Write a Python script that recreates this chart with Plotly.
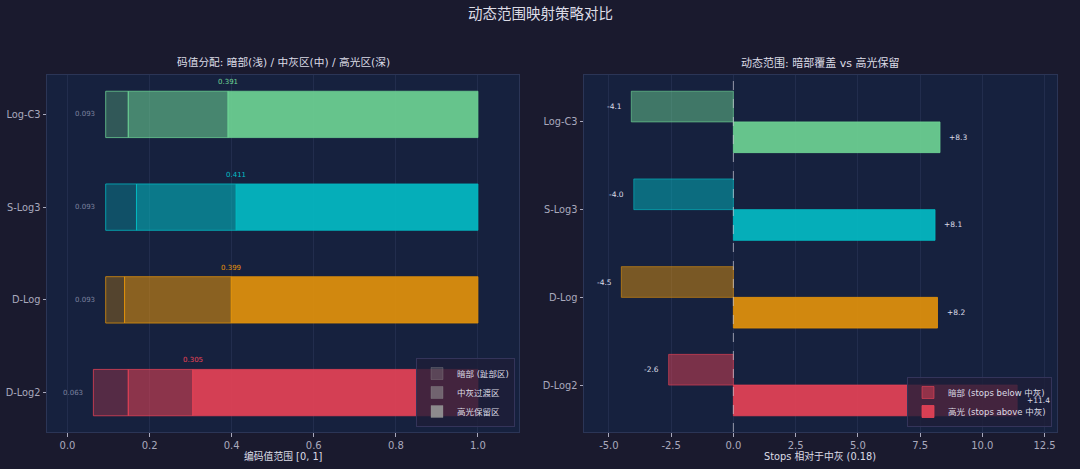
import plotly.graph_objects as go

# ---------------- data ----------------
curves = ["Log-C3", "S-Log3", "D-Log", "D-Log2"]
black_cv = [0.093, 0.093, 0.093, 0.063]
toe_end_cv = [0.148, 0.168, 0.139, 0.148]
mid_grey_cv = [0.391, 0.411, 0.399, 0.305]
white_cv = [1.0, 1.0, 1.0, 1.0]
stops_below = [-4.1, -4.0, -4.5, -2.6]
stops_above = [8.3, 8.1, 8.2, 11.4]
x1_ticks = [0.0, 0.2, 0.4, 0.6, 0.8, 1.0]
x2_ticks = [-5.0, -2.5, 0.0, 2.5, 5.0, 7.5, 10.0, 12.5]
seg_names = ["暗部 (趾部区)", "中灰过渡区", "高光保留区"]
dr_names = ["暗部 (stops below 中灰)", "高光 (stops above 中灰)"]

# ---------------- style ----------------
base_rgb = [(111, 214, 149), (3, 190, 198), (230, 148, 10), (233, 67, 86)]
FIG_BG = "#1a1a2e"
AX_BG = "#16213e"
FONT = "DejaVu Sans, Noto Sans CJK SC, sans-serif"
TICK_C = "#a9a9bd"
TXT_C = "#dcdce6"
GRID_C = "rgba(48,60,95,0.45)"
SPINE_C = "#2b3556"

def rgba(c, a):
    return f"rgba({c[0]},{c[1]},{c[2]},{a})"

n = len(curves)
ypos = [n - 1 - i for i in range(n)]  # Log-C3 on top

fig = go.Figure()

# ---- left: code value segments ----
alphas = [0.30, 0.56, 0.90]
starts = [black_cv, toe_end_cv, mid_grey_cv]
ends = [toe_end_cv, mid_grey_cv, white_cv]
for k in range(3):
    fig.add_trace(go.Bar(
        orientation="h",
        y=ypos,
        x=[ends[k][i] - starts[k][i] for i in range(n)],
        base=starts[k],
        width=0.5,
        marker=dict(color=[rgba(c, alphas[k]) for c in base_rgb],
                    line=dict(color=[rgba(c, 0.75) for c in base_rgb], width=1)),
        showlegend=False, hoverinfo="skip",
        xaxis="x", yaxis="y",
    ))
for k in range(3):
    fig.add_trace(go.Bar(
        orientation="h", y=[None], x=[None],
        name=seg_names[k],
        marker=dict(color=rgba((150, 150, 150), alphas[k]),
                    line=dict(color=rgba((150, 150, 150), 0.3), width=1)),
        showlegend=True, legend="legend",
        xaxis="x", yaxis="y",
    ))

# ---- right: stops ----
fig.add_trace(go.Bar(
    orientation="h",
    y=[p + 0.175 for p in ypos], x=stops_below, width=0.35,
    marker=dict(color=[rgba(c, 0.48) for c in base_rgb],
                line=dict(color=[rgba(c, 0.6) for c in base_rgb], width=1)),
    showlegend=False, hoverinfo="skip", xaxis="x2", yaxis="y2",
))
fig.add_trace(go.Bar(
    orientation="h",
    y=[p - 0.175 for p in ypos], x=stops_above, width=0.35,
    marker=dict(color=[rgba(c, 0.90) for c in base_rgb],
                line=dict(color=[rgba(c, 0.8) for c in base_rgb], width=1)),
    showlegend=False, hoverinfo="skip", xaxis="x2", yaxis="y2",
))
fig.add_trace(go.Bar(
    orientation="h", y=[None], x=[None], name=dr_names[0],
    marker=dict(color=rgba(base_rgb[3], 0.48), line=dict(color=rgba(base_rgb[3], 0.6), width=1)),
    legend="legend2", xaxis="x2", yaxis="y2",
))
fig.add_trace(go.Bar(
    orientation="h", y=[None], x=[None], name=dr_names[1],
    marker=dict(color=rgba(base_rgb[3], 0.9), line=dict(color=rgba(base_rgb[3], 0.8), width=1)),
    legend="legend2", xaxis="x2", yaxis="y2",
))

ann = []
for i in range(n):
    c = base_rgb[i]
    ann.append(dict(xref="x", yref="y", x=black_cv[i] - 0.02, y=ypos[i],
                    text=f"{black_cv[i]:.3f}", showarrow=False, xanchor="right",
                    yanchor="middle", font=dict(size=7, color="#7c819e", family=FONT)))
    ann.append(dict(xref="x", yref="y", x=mid_grey_cv[i], y=ypos[i] + 0.25,
                    text=f"{mid_grey_cv[i]:.3f}", showarrow=False, xanchor="center",
                    yanchor="bottom", yshift=3, font=dict(size=7, color=rgba(c, 1), family=FONT)))
    ann.append(dict(xref="x2", yref="y2", x=stops_below[i] - 0.3, y=ypos[i] + 0.175,
                    text=f"{stops_below[i]:.1f}", showarrow=False, xanchor="right",
                    yanchor="middle", font=dict(size=7.5, color=TXT_C, family=FONT)))
    ann.append(dict(xref="x2", yref="y2", x=stops_above[i] + 0.3, y=ypos[i] - 0.175,
                    text=f"{stops_above[i]:+.1f}", showarrow=False, xanchor="left",
                    yanchor="middle", font=dict(size=7.5, color=TXT_C, family=FONT)))

# titles
ann.append(dict(xref="paper", yref="paper", x=0.5, y=1 - 14 / 469, text="动态范围映射策略对比",
                showarrow=False, xanchor="center", yanchor="middle",
                font=dict(size=14.5, color=TXT_C, family=FONT)))
ann.append(dict(xref="paper", yref="paper", x=283 / 1080, y=1 - 63 / 469,
                text="码值分配: 暗部(浅) / 中灰区(中) / 高光区(深)",
                showarrow=False, xanchor="center", yanchor="middle",
                font=dict(size=10.7, color=TXT_C, family=FONT)))
ann.append(dict(xref="paper", yref="paper", x=820 / 1080, y=1 - 63 / 469,
                text="动态范围: 暗部覆盖 vs 高光保留",
                showarrow=False, xanchor="center", yanchor="middle",
                font=dict(size=11, color=TXT_C, family=FONT)))
ann.append(dict(xref="paper", yref="paper", x=283 / 1080, y=1 - 456 / 469,
                text="编码值范围 [0, 1]", showarrow=False, xanchor="center", yanchor="middle",
                font=dict(size=9.8, color=TXT_C, family=FONT)))
ann.append(dict(xref="paper", yref="paper", x=820 / 1080, y=1 - 456 / 469,
                text="Stops 相对于中灰 (0.18)", showarrow=False, xanchor="center", yanchor="middle",
                font=dict(size=9.8, color=TXT_C, family=FONT)))

ydom = [(469 - 432) / 469, (469 - 75) / 469]
axis_common = dict(showline=True, mirror=True, linecolor=SPINE_C, linewidth=1,
                   ticks="outside", ticklen=3.5, tickcolor=TICK_C, tickwidth=1,
                   zeroline=False, automargin=False)
xtickfont = dict(size=10, color=TICK_C, family=FONT)
ytickfont = dict(size=9.8, color=TICK_C, family=FONT)

leg_common = dict(xanchor="right", yanchor="bottom",
                  bgcolor="rgba(30,30,56,0.8)", bordercolor="#34345a", borderwidth=1,
                  font=dict(size=8.5, color=TXT_C, family=FONT), tracegroupgap=0,
                  itemwidth=30)

fig.update_layout(
    width=1080, height=469,
    margin=dict(l=0, r=0, t=0, b=0),
    paper_bgcolor=FIG_BG, plot_bgcolor=AX_BG,
    barmode="overlay",
    font=dict(family=FONT, color=TXT_C),
    xaxis=dict(domain=[47 / 1080, 519 / 1080], range=[-0.05, 1.1],
               tickvals=x1_ticks, ticktext=[f"{v:.1f}" for v in x1_ticks],
               showgrid=True, gridcolor=GRID_C, gridwidth=1, layer="above traces",
               anchor="y", tickfont=xtickfont, **axis_common),
    yaxis=dict(domain=ydom, range=[-0.425, 3.425], tickvals=ypos, ticktext=curves,
               showgrid=False, anchor="x", tickfont=ytickfont, **axis_common),
    xaxis2=dict(domain=[584 / 1080, 1057 / 1080], range=[-6, 13],
                tickvals=x2_ticks, ticktext=[f"{v:.1f}" for v in x2_ticks],
                showgrid=True, gridcolor=GRID_C, gridwidth=1, layer="above traces",
                anchor="y2", tickfont=xtickfont, **axis_common),
    yaxis2=dict(domain=ydom, range=[-0.535, 3.535], tickvals=ypos, ticktext=curves,
                showgrid=False, anchor="x2", tickfont=ytickfont, **axis_common),
    legend=dict(x=515 / 1080, y=(469 - 427) / 469, **leg_common),
    legend2=dict(x=1052 / 1080, y=(469 - 427) / 469, **leg_common),
    annotations=ann,
    shapes=[dict(type="line", xref="x2", yref="y2 domain", x0=0, x1=0, y0=0, y1=1,
                 line=dict(color="rgba(200,200,210,0.7)", width=1, dash="dash"))],
)

fig.write_html(
    "out.html",
    config={"displayModeBar": False},
    post_script="document.body.style.margin='0';document.body.style.padding='0';"
                "document.body.style.background='#1a1a2e';",
)
